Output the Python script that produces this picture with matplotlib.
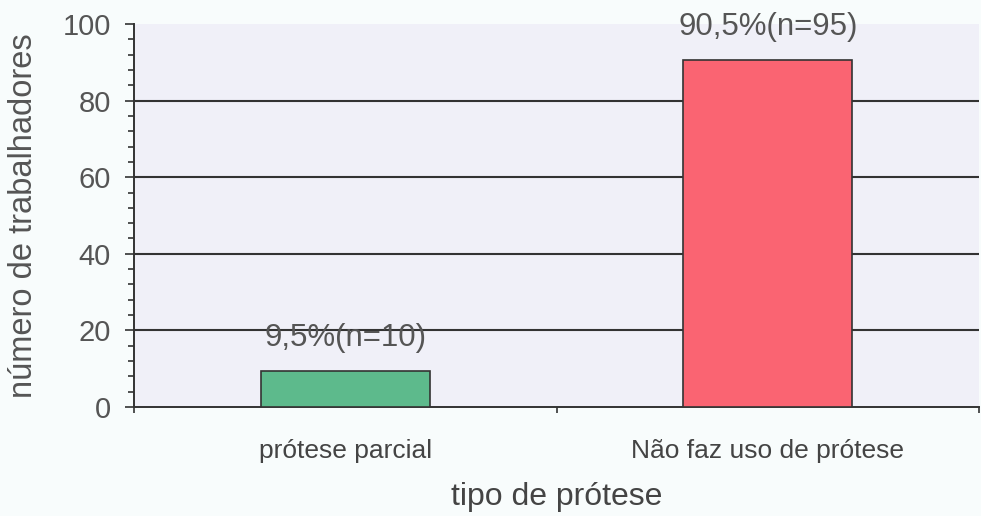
import matplotlib
matplotlib.use("Agg")
import matplotlib.pyplot as plt
from matplotlib.ticker import MultipleLocator

categories = ["prótese parcial", "Não faz uso de prótese"]
values = [9.5, 90.5]
labels = ["9,5%(n=10)", "90,5%(n=95)"]
colors = ["#5dba8c", "#fa6472"]

plt.rcParams['font.family'] = ['Liberation Sans', 'DejaVu Sans']
fig = plt.figure(figsize=(9.81, 5.16), dpi=100, facecolor="#f8fcfc")
ax = fig.add_axes([0.1366, 0.2112, 0.998 - 0.1366, 0.9535 - 0.2112])
ax.set_facecolor("#f0f0f8")

x = list(range(len(categories)))
ax.bar(x, values, width=0.4, color=colors, edgecolor="#333333", linewidth=1.2, zorder=3)
for xi, v, lab in zip(x, values, labels):
    ax.annotate(lab, (xi, v), xytext=(0, 18), textcoords="offset points",
                ha="center", va="baseline", fontsize=22.5, color="#555555", zorder=4)

ax.set_xlim(-0.5, 1.5)
ax.set_ylim(0, 100)
ax.yaxis.set_major_locator(MultipleLocator(20))
ax.yaxis.set_minor_locator(MultipleLocator(4))
ymin, ymax = ax.get_ylim()
for yt in ax.get_yticks():
    if ymin < yt < ymax:
        ax.axhline(yt, color="#333333", linewidth=1.5, zorder=1)

ax.set_xticks([-0.5, 0.5, 1.5])
ax.set_xticklabels([])
ax.set_xticks(x, minor=True)
ax.set_xticklabels(categories, minor=True, fontsize=19, color="#444444")
ax.tick_params(axis="x", which="minor", length=0, pad=23)
ax.tick_params(axis="x", which="major", length=4.5, width=1.2, color="#333333", direction="out")
ax.tick_params(axis="y", which="major", length=6.5, width=1.2, color="#333333", labelsize=21, labelcolor="#555555", pad=10)
ax.tick_params(axis="y", which="minor", length=4.3, width=1.2, color="#333333")

for s in ["top", "right"]:
    ax.spines[s].set_visible(False)
for s in ["left", "bottom"]:
    ax.spines[s].set_color("#333333")
    ax.spines[s].set_linewidth(1.4)

ax.set_xlabel("tipo de prótese", fontsize=23, color="#444444", labelpad=14)
ax.set_ylabel("número de trabalhadores", fontsize=23.5, color="#555555", labelpad=17)

fig.savefig("out.png", dpi=100, facecolor=fig.get_facecolor())
